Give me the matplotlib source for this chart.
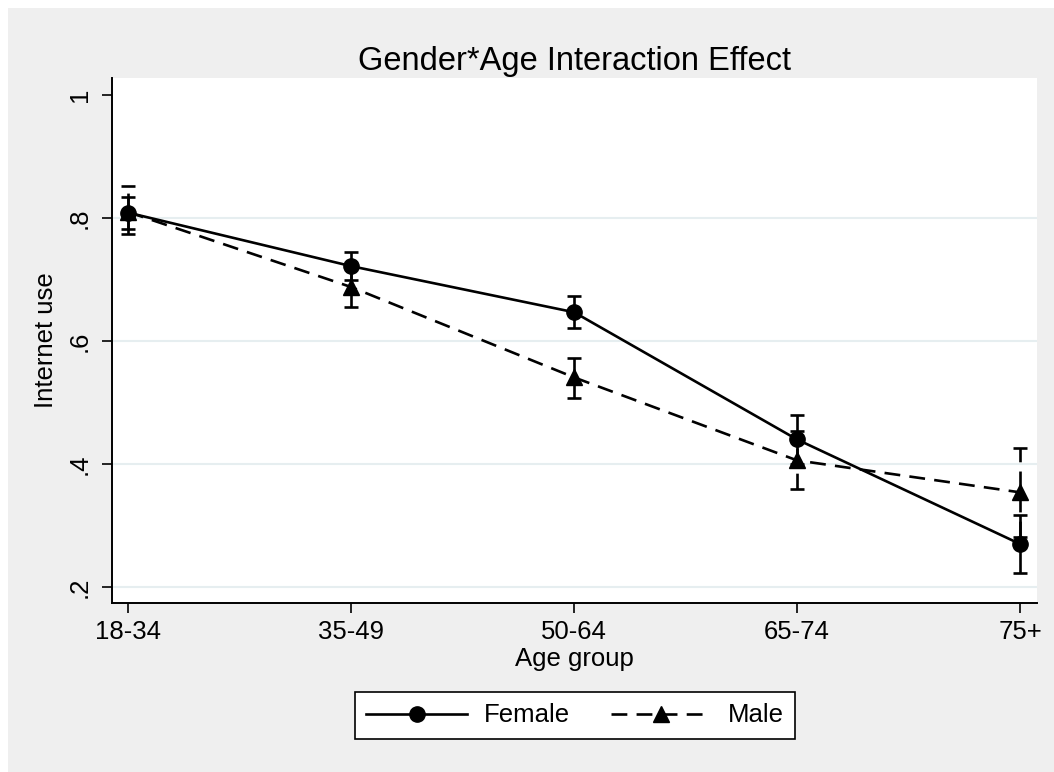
import matplotlib.pyplot as plt
from matplotlib.patches import Rectangle
import numpy as np

plt.rcParams['font.family'] = ['Liberation Sans', 'DejaVu Sans']

# valeurs
age_groups = ['18-34', '35-49', '50-64', '65-74', '75+']
female_mean = [0.809, 0.722, 0.647, 0.440, 0.270]
female_lo = [0.782, 0.699, 0.621, 0.400, 0.223]
female_hi = [0.835, 0.745, 0.673, 0.480, 0.317]
male_mean = [0.810, 0.688, 0.541, 0.406, 0.354]
male_lo = [0.775, 0.655, 0.507, 0.359, 0.282]
male_hi = [0.852, 0.721, 0.572, 0.453, 0.426]
yticks = [0.2, 0.4, 0.6, 0.8, 1.0]
ytick_labels = ['.2', '.4', '.6', '.8', '1']

fig = plt.figure(figsize=(10.54, 7.72), dpi=100, facecolor='white')
# fond gris style Stata
fig.patches.append(Rectangle((8 / 1054, 0), 1, 1 - 8 / 772, transform=fig.transFigure,
                             facecolor='#efefef', edgecolor='none', zorder=-10))

ax = fig.add_axes([112 / 1054, 1 - 603 / 772, (1037 - 112) / 1054, (603 - 78) / 772])
ax.set_facecolor('white')

x = np.arange(len(age_groups))
fm = np.array(female_mean)
mm = np.array(male_mean)

for yv in yticks[:-1]:
    ax.axhline(yv, color='#e6eef0', lw=1.5, zorder=1)

lw = 1.9
# femmes
ax.plot(x, fm, color='black', lw=lw, marker='o', markersize=11, label='Female', zorder=3)
eb = ax.errorbar(x, fm, yerr=[fm - np.array(female_lo), np.array(female_hi) - fm],
                 fmt='none', ecolor='black', elinewidth=lw, capsize=4.8, capthick=lw, zorder=3)

# hommes
ax.plot(x, mm, color='black', lw=lw, dashes=(6, 3.5), marker='^', markersize=11.5,
        label='Male', zorder=3)
eb2 = ax.errorbar(x, mm, yerr=[mm - np.array(male_lo), np.array(male_hi) - mm],
                  fmt='none', ecolor='black', elinewidth=lw, capsize=4.8, capthick=lw, zorder=3)
eb2[2][0].set_dashes([(0, (6, 3.5))])

ax.set_xlim(-0.072, 4.076)
ax.set_ylim(0.174, 1.028)
ax.set_xticks(x)
ax.set_xticklabels(age_groups, fontsize=18.5)
ax.set_yticks(yticks)
ax.set_yticklabels(ytick_labels, fontsize=18.5, rotation=90, va='center')
ax.tick_params(axis='both', direction='out', length=7.5, width=1.2, color='black')
ax.tick_params(axis='x', pad=5)
ax.tick_params(axis='y', pad=7)

for s in ['top', 'right']:
    ax.spines[s].set_visible(False)
for s in ['left', 'bottom']:
    ax.spines[s].set_linewidth(1.4)

ax.set_xlabel('Age group', fontsize=18.5, labelpad=2)
ax.set_ylabel('Internet use', fontsize=18.5, labelpad=7)
ax.set_title('Gender*Age Interaction Effect', fontsize=23.5, pad=6)

leg = ax.legend(loc='center', bbox_to_anchor=(575 / 1054, 1 - 715.5 / 772),
                bbox_transform=fig.transFigure, ncol=2, fontsize=18.5, frameon=True,
                fancybox=False, edgecolor='black', handlelength=3.9, handletextpad=0.65,
                columnspacing=1.6, borderpad=0.45)
leg.get_frame().set_linewidth(1.2)
leg.get_frame().set_facecolor('white')
leg.get_frame().set_alpha(1)

fig.savefig('out.png', dpi=100, facecolor=fig.get_facecolor())
